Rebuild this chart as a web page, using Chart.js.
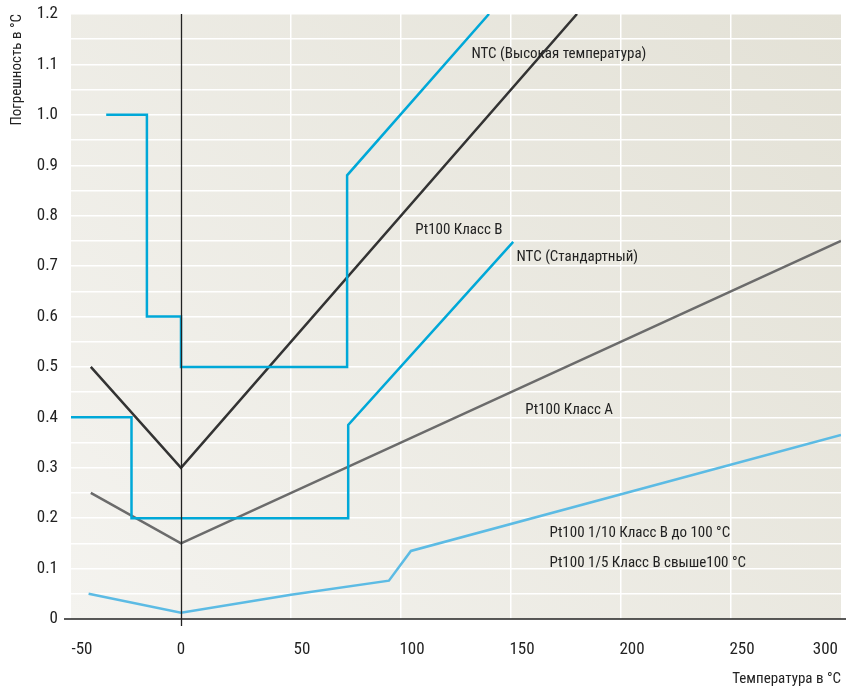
<!DOCTYPE html>
<html>
<head>
<meta charset="utf-8">
<script src="https://cdn.jsdelivr.net/npm/chart.js@4"></script>
<style>
  html, body { margin: 0; padding: 0; background: #fff; }
  #wrap { width: 846px; height: 688px; }
</style>
</head>
<body>
<div id="wrap"><canvas id="chart"></canvas></div>
<script>
const FONT = '"Liberation Sans Narrow", "Arial Narrow", "Roboto Condensed", Roboto, sans-serif';

// temperature (°C) / error (°C)
const ntcStandard = [[-50, 0.4], [-22.5, 0.4], [-22.5, 0.2], [76, 0.2], [76, 0.385], [151, 0.748]];
const ntcHigh = [[-34, 1.0], [-15.5, 1.0], [-15.5, 0.6], [0, 0.6], [0, 0.5], [75.5, 0.5], [75.5, 0.88], [140, 1.2]];
const pt100B = [[-41, 0.5], [0, 0.3], [180, 1.2]];
const pt100A = [[-41, 0.25], [0, 0.15], [300, 0.75]];
const pt100Tenth = [[-42, 0.05], [0, 0.0125], [50, 0.048], [94.5, 0.076], [104.5, 0.135], [300, 0.365]];

const xTicks = [-50, 0, 50, 100, 150, 200, 250, 300];

const curveLabels = [
    { text: 'NTC (Высокая температура)', x: 132, y: 1.12 },
    { text: 'Pt100 Класс B', x: 106.5, y: 0.771 },
    { text: 'NTC (Стандартный)', x: 152.5, y: 0.718 },
    { text: 'Pt100 Класс A', x: 156.5, y: 0.415 },
    { text: 'Pt100 1/10 Класс B до 100 °C', x: 167.5, y: 0.171 },
    { text: 'Pt100 1/5 Класс B свыше100 °C', x: 167.5, y: 0.111 }
];

const toXY = arr => arr.map(p => ({ x: p[0], y: p[1] }));

function series(data, color) {
    return {
        data: toXY(data),
        borderColor: color,
        borderWidth: 2.5,
        pointRadius: 0,
        fill: false,
        tension: 0
    };
}

const decor = {
    id: 'decor',
    beforeDraw(chart) {
        const { ctx, chartArea: a } = chart;
        const g = ctx.createLinearGradient(a.left, a.bottom, a.right, a.top);
        g.addColorStop(0, '#f4f3ef');
        g.addColorStop(1, '#e3e1d6');
        ctx.save();
        ctx.fillStyle = g;
        ctx.fillRect(a.left, a.top, a.right - a.left, a.bottom - a.top);
        ctx.restore();
    },
    afterDatasetsDraw(chart) {
        const { ctx, chartArea: a, scales: { x, y } } = chart;
        ctx.save();
        // zero line and x axis
        ctx.strokeStyle = '#222';
        ctx.lineWidth = 1.3;
        const x0 = Math.round(x.getPixelForValue(0)) + 0.5;
        ctx.beginPath();
        ctx.moveTo(x0, a.top);
        ctx.lineTo(x0, a.bottom + 7);
        ctx.stroke();
        ctx.lineWidth = 1.6;
        ctx.beginPath();
        ctx.moveTo(a.left - 7, a.bottom);
        ctx.lineTo(chart.width, a.bottom);
        ctx.stroke();

        // x tick labels
        ctx.fillStyle = '#222';
        ctx.font = '17px ' + FONT;
        ctx.textBaseline = 'middle';
        xTicks.forEach((v, i) => {
            let px = x.getPixelForValue(v);
            if (i === xTicks.length - 1) {
                ctx.textAlign = 'right';
                px = a.right - 3;
            } else {
                ctx.textAlign = 'center';
                if (v !== 0) px += 11;
            }
            ctx.fillText(String(v), px, a.bottom + 31);
        });

        // curve names
        ctx.font = '15px ' + FONT;
        ctx.textAlign = 'left';
        curveLabels.forEach(l => {
            ctx.fillText(l.text, x.getPixelForValue(l.x), y.getPixelForValue(l.y));
        });
        ctx.restore();
    }
};

new Chart(document.getElementById('chart'), {
    type: 'line',
    data: {
        datasets: [
            series(ntcStandard, '#00a8d8'),
            series(ntcHigh, '#00a8d8'),
            series(pt100B, '#333333'),
            series(pt100A, '#6b6b6b'),
            series(pt100Tenth, '#5cbbe4')
        ]
    },
    options: {
        responsive: true,
        maintainAspectRatio: false,
        animation: false,
        layout: { padding: { top: 14, right: 5, left: 0, bottom: 0 } },
        plugins: { legend: { display: false }, tooltip: { enabled: false } },
        scales: {
            x: {
                type: 'linear',
                min: -50,
                max: 300,
                afterFit: s => { s.height = 69; },
                afterBuildTicks: s => { s.ticks = xTicks.map(v => ({ value: v })); },
                ticks: { display: false },
                border: { display: false },
                grid: {
                    drawTicks: false,
                    lineWidth: 1.5,
                    color: c => (c.tick && c.tick.value > 0 && c.tick.value < 300) ? '#ffffff' : 'rgba(0,0,0,0)'
                },
                title: {
                    display: true,
                    text: 'Температура в °C',
                    align: 'end',
                    color: '#222',
                    font: { family: FONT, size: 15 },
                    padding: { top: 0, bottom: 0 }
                }
            },
            y: {
                min: 0,
                max: 1.2,
                afterFit: s => { s.width = 71; s.paddingTop = 0; s.paddingBottom = 0; },
                border: { display: false },
                grid: {
                    drawTicks: false,
                    lineWidth: 1.5,
                    color: c => (c.tick && c.tick.value > 0.001) ? '#ffffff' : 'rgba(0,0,0,0)'
                },
                ticks: {
                    stepSize: 0.05,
                    padding: 13,
                    color: '#222',
                    font: { family: FONT, size: 17 },
                    callback: v => {
                        const k = Math.round(v * 100);
                        if (k % 10 !== 0) return '';
                        return k === 0 ? '0' : (k / 100).toFixed(1);
                    }
                },
                title: {
                    display: true,
                    text: 'Погрешность в °C',
                    align: 'end',
                    color: '#222',
                    font: { family: FONT, size: 15 },
                    padding: { top: 8, bottom: 0 }
                }
            }
        }
    },
    plugins: [decor]
});
</script>
</body>
</html>
